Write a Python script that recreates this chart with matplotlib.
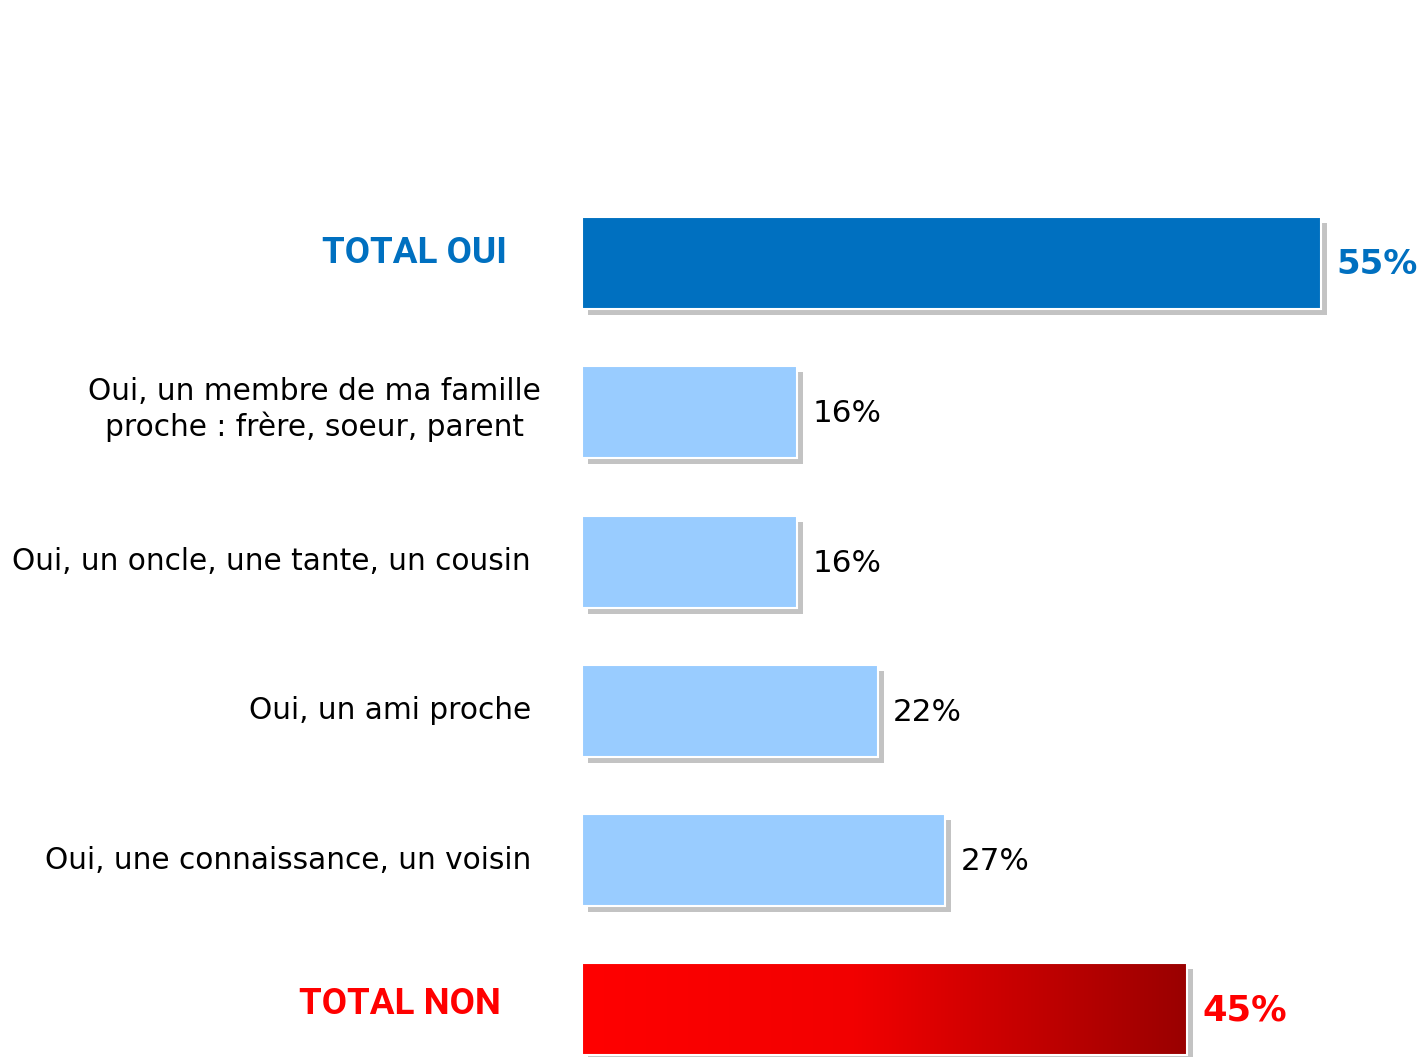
import numpy as np
import matplotlib.pyplot as plt
from matplotlib.colors import LinearSegmentedColormap
from matplotlib.patches import Rectangle

labels = ["TOTAL OUI",
          "Oui, un membre de ma famille\nproche : frère, soeur, parent",
          "Oui, un oncle, une tante, un cousin",
          "Oui, un ami proche",
          "Oui, une connaissance, un voisin",
          "TOTAL NON"]
values = [55, 16, 16, 22, 27, 45]
value_text = ["55%", "16%", "16%", "22%", "27%", "45%"]

BLUE = "#0070C0"
LIGHT = "#99CCFF"
RED = "#FF0000"
SHADOW = "#C3C3C3"

W, H = 1422, 1057
x0_px, px_per_unit = 582, 13.44
y0_px, row_px = 263, 149.3

fig = plt.figure(figsize=(W / 100, H / 100), dpi=100)
ax = fig.add_axes([x0_px / W, 0, 1 - x0_px / W, 1])
ax.set_xlim(0, (W - x0_px) / px_per_unit)
ax.axis("off")

bh = 92 / row_px
sx, sy = 6 / px_per_unit, 6 / row_px
ypos = np.arange(len(values))

# shadows
for y, v in zip(ypos, values):
    ax.add_patch(Rectangle((sx, y - bh / 2 + sy), v, bh, color=SHADOW, lw=0, zorder=1))

colors = [BLUE, LIGHT, LIGHT, LIGHT, LIGHT, None]
for y, v, c in zip(ypos[:-1], values[:-1], colors[:-1]):
    ax.barh(y, v, height=bh, color=c, edgecolor="white", linewidth=1.5, zorder=2)

# gradient bar for TOTAL NON
cmap = LinearSegmentedColormap.from_list("reds", [(0, "#FF0000"), (0.45, "#F20000"), (1, "#9A0000")])
y, v = ypos[-1], values[-1]
grad = np.linspace(0, 1, 256).reshape(1, -1)
ax.imshow(grad, cmap=cmap, aspect="auto", extent=(0, v, y + bh / 2, y - bh / 2), zorder=2)
ax.add_patch(Rectangle((0, y - bh / 2), v, bh, fill=False, edgecolor="white", lw=1.5, zorder=3))
ax.set_xlim(0, (W - x0_px) / px_per_unit)
ax.set_ylim((H - y0_px) / row_px, -y0_px / row_px)

# value labels
off = 1.15
for i, (y, v, t) in enumerate(zip(ypos, values, value_text)):
    if i == 0:
        ax.text(v + off, y + 0.01, t, color=BLUE, fontsize=24.5, fontweight="bold", va="center")
    elif i == len(values) - 1:
        ax.text(v + off, y + 0.01, t, color=RED, fontsize=25.5, fontweight="bold", va="center")
    else:
        ax.text(v + off, y + 0.01, t, color="black", fontsize=22.3, va="center")

# category labels
tfam = ["Roboto", "DejaVu Sans"]
ax.text((507 - x0_px) / px_per_unit, ypos[0] - 0.07, labels[0], color=BLUE, fontsize=26.5,
        fontweight="bold", family=tfam, ha="right", va="center")
ax.text((501 - x0_px) / px_per_unit, ypos[-1] - 0.04, labels[-1], color=RED, fontsize=26.5,
        fontweight="bold", family=tfam, ha="right", va="center")
ax.text((541 - x0_px) / px_per_unit, ypos[1] - 0.02, labels[1], fontsize=21.3, ha="right",
        va="center", multialignment="center", linespacing=1.2)
for y, lab in zip(ypos[2:5], labels[2:5]):
    ax.text((531 - x0_px) / px_per_unit, y, lab, fontsize=21.3, ha="right", va="center")

fig.savefig("out.png", dpi=100)
